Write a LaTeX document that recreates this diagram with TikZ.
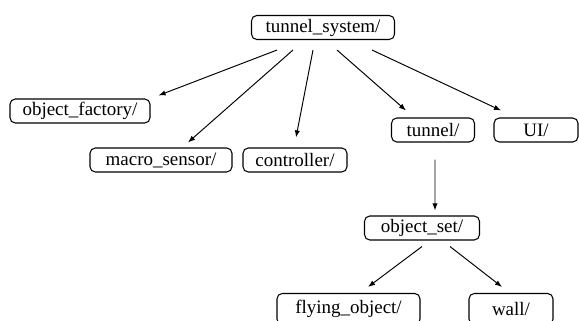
\documentclass[tikz,border=0pt]{standalone}
\usepackage{fontspec}
\setmainfont{Liberation Serif}
\usetikzlibrary{arrows.meta}

\begin{document}
\begin{tikzpicture}[
        dirbox/.style={draw, rounded corners=3pt, line width=0.6pt, minimum height=0.48cm, inner sep=0pt, font=\fontsize{10.8}{13}\selectfont},
        link/.style={-{Latex[length=4pt,width=3pt]}, line width=0.55pt}
    ]
        \useasboundingbox (0,0) rectangle (11.58,-6.42);
        \node[dirbox, minimum width=2.86cm] (tunnel_system) at (6.46,-0.55) {tunnel\_system/};
        \node[dirbox, minimum width=2.80cm] (object_factory) at (1.60,-2.22) {object\_factory/};
        \node[dirbox, minimum width=2.84cm] (macro_sensor) at (3.22,-3.20) {macro\_sensor/};
        \node[dirbox, minimum width=2.08cm] (controller) at (5.90,-3.20) {controller/};
        \node[dirbox, minimum width=1.66cm] (tunnel) at (8.66,-2.60) {tunnel/};
        \node[dirbox, minimum width=1.68cm] (UI) at (10.72,-2.60) {UI/};
        \node[dirbox, minimum width=2.30cm] (object_set) at (8.44,-4.56) {object\_set/};
        \node[dirbox, minimum width=2.86cm, minimum height=0.62cm] (flying_object) at (6.97,-6.18) {flying\_object/};
        \node[dirbox, minimum width=1.68cm, minimum height=0.62cm] (wall) at (10.22,-6.18) {wall/};
        % top level
        \draw[link] ([xshift=-0.92cm,yshift=-0.2cm]tunnel_system.south) -- ([xshift=0.16cm,yshift=0.06cm]object_factory.north east);
        \draw[link] ([xshift=-0.60cm,yshift=-0.2cm]tunnel_system.south) -- ([xshift=0.54cm,yshift=0.10cm]macro_sensor.north);
        \draw[link] ([xshift=-0.20cm,yshift=-0.2cm]tunnel_system.south) -- ([xshift=0.02cm,yshift=0.20cm]controller.north);
        \draw[link] ([xshift=0.28cm,yshift=-0.2cm]tunnel_system.south) -- ([xshift=-0.54cm,yshift=0.14cm]tunnel.north);
        \draw[link] ([xshift=0.98cm,yshift=-0.2cm]tunnel_system.south) -- ([xshift=-0.70cm,yshift=0.14cm]UI.north);
        % below tunnel
        \draw[link] ([xshift=0.04cm,yshift=-0.34cm]tunnel.south) -- ([xshift=0.26cm,yshift=0.10cm]object_set.north);
        \draw[link] ([yshift=-0.12cm]object_set.south) -- ([xshift=0.39cm,yshift=0.12cm]flying_object.north);
        \draw[link] ([xshift=0.56cm,yshift=-0.12cm]object_set.south) -- ([xshift=-0.18cm,yshift=0.12cm]wall.north);
    \end{tikzpicture}
\end{document}
